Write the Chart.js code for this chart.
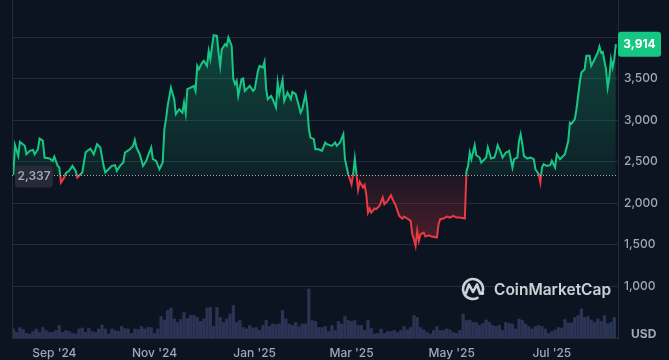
<!DOCTYPE html>
<html>
<head>
<meta charset="utf-8">
<script src="https://cdn.jsdelivr.net/npm/chart.js@4.4.1/dist/chart.umd.min.js"></script>
<style>
  html, body { margin: 0; padding: 0; background: #0d1421; }
  #wrap { width: 669px; height: 360px; }
</style>
</head>
<body>
<div id="wrap"><canvas id="chart" width="669" height="360"></canvas></div>
<script>
// day offsets from 7 Aug 2024 and ETH price (USD)
const days = [0,1,3,4,7,8,10,12,13,15,16,18,19,22,24,25,27,28,29,31,32,34,36,38,39,42,44,45,47,49,51,53,55,56,58,60,62,63,65,67,68,71,73,74,75,77,79,81,82,84,85,87,89,91,92,93,94,96,98,99,101,103,104,105,106,108,110,111,112,113,115,116,118,119,120,122,124,125,126,127,129,130,131,133,134,135,136,137,139,140,141,143,144,146,147,149,150,152,153,154,155,157,158,160,161,162,164,165,167,169,170,172,175,176,178,179,180,181,183,184,186,188,190,191,194,196,197,199,201,202,204,205,206,207,208,209,210,211,213,214,215,216,217,218,220,221,223,225,226,228,230,231,233,235,237,238,240,242,243,244,245,246,247,248,250,251,253,255,258,259,260,262,264,266,268,270,272,275,276,277,278,279,281,282,284,285,287,288,289,291,293,294,295,297,298,300,301,302,304,305,307,308,309,310,311,313,315,317,318,320,321,322,323,325,327,328,330,331,333,334,336,338,339,340,342,343,345,346,348,349,351,352,354,356,357,358,359,361,362,363,364,365,366,367];
const prices = [2337,2697,2568,2737,2689,2588,2628,2640,2588,2648,2777,2749,2548,2536,2508,2560,2448,2428,2247,2307,2359,2387,2448,2387,2307,2367,2608,2628,2656,2588,2709,2669,2448,2367,2407,2448,2456,2387,2448,2488,2608,2648,2689,2761,2669,2588,2448,2508,2568,2669,2528,2508,2407,2488,2889,3010,3171,3391,3251,3070,3130,3090,3211,3082,3371,3391,3412,3351,3653,3612,3693,3713,3653,3833,3733,4022,4014,3813,3653,3853,3914,3893,3994,3893,3492,3432,3472,3291,3492,3500,3351,3391,3412,3351,3371,3592,3653,3633,3701,3371,3251,3291,3251,3150,3452,3311,3484,3231,3331,3251,3339,3311,3090,3130,3311,3171,2889,2789,2769,2648,2648,2628,2729,2709,2689,2729,2689,2729,2829,2528,2347,2287,2226,2347,2536,2347,2158,2255,2186,2218,2100,1885,1934,1885,1934,1926,1966,2066,1986,2026,2094,2046,1966,1845,1813,1837,1813,1785,1624,1564,1484,1664,1544,1624,1644,1596,1612,1596,1584,1745,1805,1813,1837,1825,1845,1825,1825,1813,2380,2448,2608,2528,2697,2576,2548,2488,2528,2548,2669,2536,2548,2608,2697,2608,2548,2608,2616,2628,2428,2528,2548,2749,2829,2709,2568,2536,2548,2528,2407,2347,2247,2428,2468,2448,2456,2508,2428,2588,2528,2548,2588,2749,2969,2957,3010,3130,3452,3572,3612,3773,3773,3653,3733,3813,3885,3813,3821,3612,3391,3512,3733,3633,3733,3914];
// trading volume (billion USD), one bar every 2 days from day 0
const volumes = [18,11,21,17,9,8,13,18,11,21,15,11,11,15,25,11,15,13,9,8,18,20,11,19,13,11,18,26,18,8,18,
  15,13,23,19,18,9,18,17,23,18,21,21,9,18,43,36,55,60,38,31,37,51,39,45,45,41,33,38,60,61,23,
  61,41,31,38,48,65,31,35,21,18,25,20,21,15,25,35,23,28,27,28,55,38,28,25,31,23,28,28,98,35,33,21,
  21,23,13,25,15,33,28,43,35,33,35,25,25,15,35,19,8,9,18,9,13,13,15,11,15,23,16,21,45,41,21,
  16,11,8,15,23,15,15,18,16,11,9,15,48,35,36,31,31,25,29,36,31,25,23,25,15,31,29,28,18,38,35,
  28,23,18,23,25,23,18,9,13,16,21,20,37,30,30,41,45,58,41,43,36,31,38,33,45,29,31,41];
const volumeStep = 2;
const monthTicks = [25, 86, 147, 206, 267, 328];
const monthLabels = ["Sep '24", "Nov '24", "Jan '25", "Mar '25", "May '25", "Jul '25"];
const priceTicks = [1000, 1500, 2000, 2500, 3000, 3500, 4000];
const basePrice = 2337;
const lastPrice = 3914;

const GREEN = '#16c784', RED = '#ea3943';
const GRID = '#252b37', TEXT = '#a1a7bb';

// green above the opening price, red below it
const splitColors = {
  id: 'splitColors',
  afterLayout(chart) {
    const { ctx, chartArea: a, scales: { y } } = chart;
    const by = y.getPixelForValue(basePrice);
    const f = Math.min(Math.max((by - a.top) / (a.bottom - a.top), 0), 1);
    const line = ctx.createLinearGradient(0, a.top, 0, a.bottom);
    line.addColorStop(0, GREEN); line.addColorStop(f, GREEN);
    line.addColorStop(f, RED); line.addColorStop(1, RED);
    const up = ctx.createLinearGradient(0, a.top, 0, by);
    up.addColorStop(0, 'rgba(22,199,132,0.34)');
    up.addColorStop(1, 'rgba(22,199,132,0.08)');
    const down = ctx.createLinearGradient(0, by, 0, y.getPixelForValue(1450));
    down.addColorStop(0, 'rgba(234,57,67,0.07)');
    down.addColorStop(1, 'rgba(234,57,67,0.30)');
    const ds = chart.data.datasets[0];
    ds.borderColor = line;
    ds.fill = { value: basePrice, above: up, below: down };
  }
};

const decorations = {
  id: 'decorations',
  afterDatasetsDraw(chart) {
    const { ctx, chartArea: a, scales: { y } } = chart;
    const by = Math.round(y.getPixelForValue(basePrice)) + 0.5;
    ctx.save();
    // left border
    ctx.strokeStyle = GRID; ctx.lineWidth = 1;
    ctx.beginPath(); ctx.moveTo(a.left + 0.5, a.top); ctx.lineTo(a.left + 0.5, a.bottom); ctx.stroke();
    // dotted baseline
    ctx.strokeStyle = 'rgba(220,224,232,0.75)';
    ctx.setLineDash([1, 2]);
    ctx.beginPath(); ctx.moveTo(a.left, by); ctx.lineTo(a.right, by); ctx.stroke();
    ctx.setLineDash([]);
    // opening price tag
    ctx.fillStyle = 'rgba(40,45,58,0.92)';
    ctx.beginPath(); ctx.roundRect(15, by - 10, 38, 22, 4); ctx.fill();
    ctx.fillStyle = TEXT; ctx.font = '600 12px Inter';
    ctx.textAlign = 'center'; ctx.textBaseline = 'middle';
    ctx.fillText(basePrice.toLocaleString('en-US'), 34, by + 1);
    // last price tag
    const ly = y.getPixelForValue(lastPrice);
    ctx.fillStyle = GREEN;
    ctx.beginPath(); ctx.roundRect(a.right, ly - 12.5, 43, 25, 3); ctx.fill();
    ctx.fillStyle = '#ffffff'; ctx.font = '700 12px Inter';
    ctx.fillText(lastPrice.toLocaleString('en-US'), a.right + 21.5, ly + 0.5);
    // currency
    ctx.fillStyle = TEXT; ctx.font = '700 12px Inter'; ctx.textAlign = 'left';
    ctx.fillText('USD', 631, 334);
    // watermark
    ctx.strokeStyle = 'rgba(225,229,236,0.9)'; ctx.lineWidth = 2.6; ctx.lineCap = 'round'; ctx.lineJoin = 'round';
    ctx.beginPath(); ctx.arc(473, 289, 10, 0.35 * Math.PI, 2.15 * Math.PI); ctx.stroke();
    ctx.beginPath();
    ctx.moveTo(466, 293); ctx.lineTo(469, 284.5); ctx.lineTo(473, 292);
    ctx.lineTo(477, 284.5); ctx.lineTo(480, 293.5); ctx.lineTo(483, 293.5);
    ctx.stroke();
    ctx.fillStyle = 'rgba(225,229,236,0.9)'; ctx.font = '600 15.5px Inter';
    ctx.fillText('CoinMarketCap', 494, 290);
    ctx.restore();
  }
};

new Chart(document.getElementById('chart'), {
  type: 'line',
  data: {
    datasets: [{
      data: days.map((d, i) => ({ x: d, y: prices[i] })),
      yAxisID: 'y',
      borderColor: GREEN,
      borderWidth: 2,
      pointRadius: 0,
      tension: 0,
      order: 1
    }, {
      type: 'bar',
      data: volumes.map((v, i) => ({ x: i * volumeStep, y: v })),
      yAxisID: 'yv',
      backgroundColor: '#2c3455',
      barThickness: 2.6,
      order: 2
    }]
  },
  options: {
    responsive: false,
    animation: false,
    layout: { padding: { left: 12, top: 0, right: 0, bottom: 0 } },
    plugins: { legend: { display: false }, tooltip: { enabled: false } },
    scales: {
      x: {
        type: 'linear', min: -0.8, max: 368.3, offset: false,
        afterBuildTicks: s => { s.ticks = monthTicks.map(v => ({ value: v })); },
        afterFit: s => { s.height = 22; s.paddingLeft = 0; s.paddingRight = 0; },
        ticks: {
          autoSkip: false, maxRotation: 0, padding: 8,
          color: TEXT, font: { family: 'Inter', size: 12, weight: 500 },
          callback: v => monthLabels[monthTicks.indexOf(v)]
        },
        grid: { display: false, drawTicks: false },
        border: { color: GRID }
      },
      y: {
        position: 'right', min: 374, max: 4446,
        afterBuildTicks: s => { s.ticks = priceTicks.map(v => ({ value: v })); },
        afterFit: s => { s.width = 51; s.paddingTop = 0; s.paddingBottom = 0; },
        ticks: {
          padding: 6, color: TEXT, font: { family: 'Inter', size: 12, weight: 500 },
          callback: v => v.toLocaleString('en-US')
        },
        grid: { color: GRID, drawTicks: false },
        border: { color: GRID }
      },
      yv: { display: false, min: 0, max: 676 }
    }
  },
  plugins: [splitColors, decorations]
});
</script>
</body>
</html>
